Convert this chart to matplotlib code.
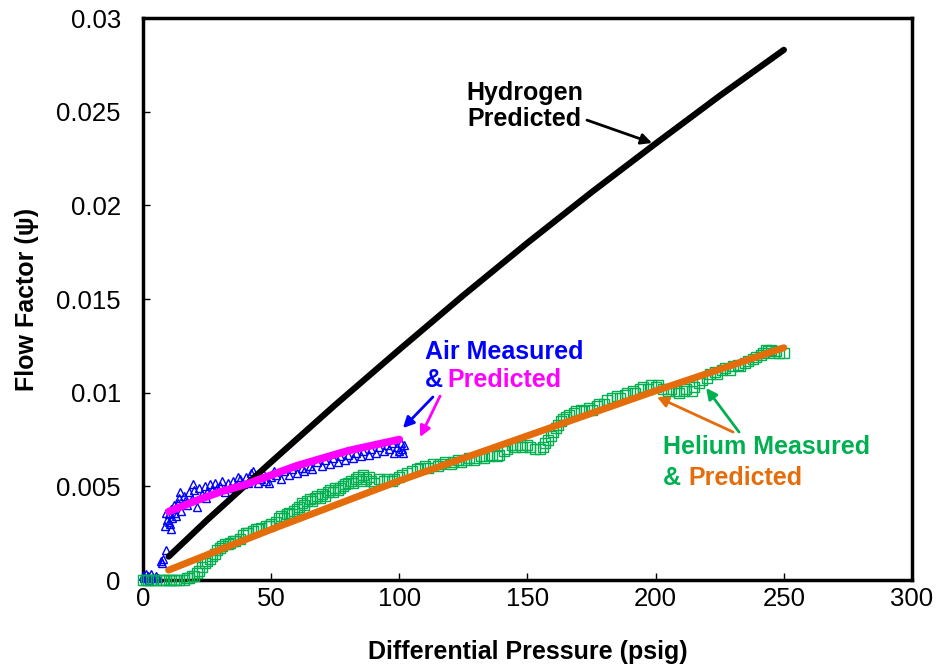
import matplotlib
matplotlib.use("Agg")
import matplotlib.pyplot as plt

plt.rcParams['font.family'] = ['Liberation Sans', 'DejaVu Sans']

# Hydrogen predicted flow factor
h2_psi = [10, 25, 50, 75, 100, 125, 150, 175, 200, 225, 250]
h2_pred = [0.00125, 0.0032, 0.0063, 0.00935, 0.0123, 0.0152, 0.0180, 0.0207, 0.0233, 0.02585, 0.0283]

# Air predicted flow factor
air_psi = [10, 20, 30, 40, 50, 60, 70, 80, 90, 100]
air_pred = [0.00365, 0.0042, 0.0047, 0.0051, 0.0056, 0.0061, 0.0065, 0.0069, 0.0072, 0.0075]

# Air measured flow factor
air_meas_psi = [0, 0.5, 1, 1.5, 2, 2.5, 3, 4, 5, 6, 7, 7.5, 8, 9, 9.5, 10, 10.5, 11, 11.5, 12,
                13, 13.5, 14, 15, 16, 17, 18, 19, 20, 21, 22, 23, 24, 25, 26, 27, 28, 29,
                30, 32, 33, 35, 36, 38, 40, 41, 42, 43, 44, 45, 46, 48, 50, 52, 54, 55,
                57, 58, 60, 62, 63, 65, 66, 68, 70, 71, 73, 74, 76, 77, 79, 80, 82, 83,
                85, 86, 88, 89, 91, 92, 94, 95, 96, 97, 98, 99, 100, 100.5, 101, 101.5, 102,
                8.5, 9, 10, 11, 12.5, 14.5, 16.5, 19.5, 24.5, 31, 34, 37, 39, 47, 49, 51]
air_meas = [0.0002, 0.0001, 0.0003, 0.0001, 0.0002, 0.0000, 0.0003, 0.0001, 0.0002, 0.0001,
            0.0010, 0.0009, 0.0011, 0.0016, 0.0032, 0.0035, 0.0030, 0.0038, 0.0033, 0.0040,
            0.0034, 0.0041, 0.0044, 0.0037, 0.0045, 0.0040, 0.0047, 0.0043, 0.0048, 0.0039,
            0.0049, 0.0046, 0.0050, 0.0047, 0.0051, 0.0048, 0.0052, 0.0049, 0.0050, 0.0047,
            0.0052, 0.0053, 0.0050, 0.0054, 0.0055, 0.0052, 0.0057, 0.0058, 0.0055, 0.0052,
            0.0054, 0.0053, 0.0055, 0.0056, 0.0054, 0.0058, 0.0056, 0.0059, 0.0057, 0.0060,
            0.0058, 0.0061, 0.0059, 0.0063, 0.0061, 0.0064, 0.0062, 0.0065, 0.0063, 0.0066,
            0.0064, 0.0067, 0.0065, 0.0068, 0.0066, 0.0069, 0.0067, 0.0070, 0.0068, 0.0071,
            0.0069, 0.0072, 0.0070, 0.0073, 0.0068, 0.0071, 0.0069, 0.0073, 0.0070, 0.0068,
            0.0072,
            0.0029, 0.0036, 0.0031, 0.0027, 0.0036, 0.0047, 0.0042, 0.0051, 0.0044, 0.0053,
            0.0049, 0.0055, 0.0051, 0.0057, 0.0052, 0.0058]

# Helium predicted flow factor
he_psi = [10, 50, 100, 150, 200, 250]
he_pred = [0.00053, 0.0027, 0.0053, 0.0077, 0.0101, 0.0124]

# Helium measured flow factor
he_meas_psi = [0, 1, 2, 3, 4, 5, 7, 8, 9, 10, 11, 12, 13, 14, 16, 17, 18, 19, 20, 21,
               22, 23, 24, 25, 26, 27, 28, 29, 30, 31, 32, 33, 34, 35, 36, 38, 39, 40, 41, 43,
               44, 45, 46, 48, 49, 50, 52, 53, 54, 55, 56, 57, 58, 59, 60, 61, 62, 63, 64, 65,
               66, 67, 68, 69, 70, 71, 72, 73, 74, 75, 76, 77, 78, 79, 80, 81, 82, 83, 84, 85,
               86, 87, 88, 89, 90, 92, 94, 95, 97, 98, 100, 101, 103, 105, 107, 108, 110, 111, 113, 115,
               116, 118, 120, 121, 123, 124, 126, 127, 129, 130, 132, 133, 135, 136, 138, 139, 141, 142, 144, 145,
               147, 148, 150, 151, 153, 155, 156, 157, 158, 159, 160, 161, 162, 163, 164, 165, 166, 168, 169, 171,
               172, 174, 175, 177, 178, 180, 181, 183, 185, 186, 188, 189, 191, 192, 194, 195, 197, 198, 200, 201,
               203, 205, 206, 208, 209, 211, 212, 214, 215, 217, 218, 220, 221, 223, 224, 226, 227, 229, 230, 232,
               233, 235, 236, 238, 239, 241, 242, 243, 244, 245, 246, 247, 248, 250]
he_meas = [0, 0, 0, 0, 0, 0, 0, 0, 0, 0, 0, 0, 0, 0, 0, 0.0001, 0.0001, 0.0002, 0.0002, 0.0004,
           0.0005, 0.0007, 0.0009, 0.0010, 0.0011, 0.0013, 0.0014, 0.0016, 0.0017, 0.0018,
           0.0019, 0.0019, 0.0020, 0.0021, 0.0021, 0.0022, 0.0024, 0.0025, 0.0025, 0.0026,
           0.0027, 0.0027, 0.0028, 0.0029, 0.0029, 0.0030, 0.0031, 0.0033, 0.0034, 0.0033,
           0.0035, 0.0036, 0.0035, 0.0037, 0.0038, 0.0039, 0.0041, 0.0040, 0.0042, 0.0043,
           0.0042, 0.0044, 0.0045, 0.0044, 0.0046, 0.0045, 0.0047, 0.0048, 0.0047, 0.0049,
           0.0048, 0.0049, 0.0050, 0.0051, 0.0052, 0.0053, 0.0052, 0.0054, 0.0055, 0.0053,
           0.0056, 0.0054, 0.0055, 0.0053, 0.0052, 0.0054, 0.0053, 0.0054, 0.0053, 0.0054,
           0.0055, 0.0056, 0.0057, 0.0058, 0.0059, 0.0060, 0.0061, 0.0060, 0.0062, 0.0061,
           0.0062, 0.0063, 0.0062, 0.0063, 0.0064, 0.0063, 0.0064, 0.0065, 0.0064, 0.0065,
           0.0066, 0.0065, 0.0066, 0.0067, 0.0066, 0.0067, 0.0069, 0.0070, 0.0072, 0.0071,
           0.0072, 0.0071, 0.0072, 0.0071, 0.0070, 0.0070, 0.0071, 0.0073, 0.0075, 0.0077,
           0.0079, 0.0081, 0.0083, 0.0085, 0.0086, 0.0087, 0.0088, 0.0089, 0.0090, 0.0091,
           0.0090, 0.0092, 0.0091, 0.0093, 0.0094, 0.0094, 0.0096, 0.0097, 0.0098, 0.0097,
           0.0099, 0.0100, 0.0101, 0.0100, 0.0102, 0.0103, 0.0102, 0.0104, 0.0103, 0.0104,
           0.0102, 0.0101, 0.0102, 0.0101, 0.0100, 0.0101, 0.0102, 0.0101, 0.0103, 0.0105,
           0.0107, 0.0108, 0.0110, 0.0111, 0.0110, 0.0112, 0.0113, 0.0112, 0.0114, 0.0115,
           0.0114, 0.0116, 0.0117, 0.0118, 0.0119, 0.0120, 0.0121, 0.0123, 0.0122, 0.0123,
           0.0121, 0.0122, 0.0121, 0.0121]

x_ticks = [0, 50, 100, 150, 200, 250, 300]
y_ticks = [0, 0.005, 0.01, 0.015, 0.02, 0.025, 0.03]
y_tick_labels = ['0', '0.005', '0.01', '0.015', '0.02', '0.025', '0.03']

BLUE = '#0000ff'
MAGENTA = '#ff00ff'
GREEN = '#00b050'
ORANGE = '#e46c0a'

fig = plt.figure(figsize=(9.45, 6.67), dpi=100)
ax = fig.add_axes([0.1513, 0.1304, 0.8138, 0.8426])

# measured points first, predicted curves drawn over them
ax.plot(air_meas_psi, air_meas, linestyle='none', marker='^', markersize=6,
        markerfacecolor='none', markeredgecolor=BLUE, markeredgewidth=1, clip_on=False, zorder=3)
ax.plot(he_meas_psi, he_meas, linestyle='none', marker='s', markersize=6.5,
        markerfacecolor='none', markeredgecolor=GREEN, markeredgewidth=1, clip_on=False, zorder=3)

ax.plot(h2_psi, h2_pred, color='black', linewidth=4.5, solid_capstyle='round',
        solid_joinstyle='round', zorder=4)
ax.plot(air_psi, air_pred, color=MAGENTA, linewidth=5.5, solid_capstyle='round',
        solid_joinstyle='round', zorder=4)
ax.plot(he_psi, he_pred, color=ORANGE, linewidth=5, solid_capstyle='round',
        solid_joinstyle='round', zorder=4)

ax.set_xlim(0, 300)
ax.set_ylim(0, 0.03)
ax.set_xticks(x_ticks)
ax.set_yticks(y_ticks)
ax.set_yticklabels(y_tick_labels)
ax.tick_params(axis='both', direction='in', length=5, width=1, labelsize=18.5)
ax.tick_params(axis='x', pad=5)
ax.tick_params(axis='y', pad=16)
for s in ax.spines.values():
    s.set_linewidth(2.5)

ax.set_xlabel('Differential Pressure (psig)', fontsize=18, fontweight='bold', labelpad=21)
ax.set_ylabel('Flow Factor (\u03c8)', fontsize=18, fontweight='bold', labelpad=12)

# callouts
arrow = dict(arrowstyle='-|>', linewidth=2, mutation_scale=16, shrinkA=0, shrinkB=0)
tfont = dict(fontsize=18, fontweight='bold')

ax.text(149, 0.0253, 'Hydrogen\nPredicted', ha='center', va='center', color='black',
        linespacing=1.1, **tfont)
ax.annotate('', xy=(198.6, 0.02333), xytext=(173.2, 0.02455),
            arrowprops=dict(arrow, color='black'))

ax.text(110, 0.01217, 'Air Measured', ha='left', va='center', color=BLUE, **tfont)
ax.text(110, 0.01068, '&', ha='left', va='center', color=BLUE, **tfont)
ax.text(118.6, 0.01068, 'Predicted', ha='left', va='center', color=MAGENTA, **tfont)
ax.annotate('', xy=(101.4, 0.00811), xytext=(113.1, 0.00977),
            arrowprops=dict(arrow, color=BLUE))
ax.annotate('', xy=(108.1, 0.00763), xytext=(115.9, 0.00982),
            arrowprops=dict(arrow, color=MAGENTA))

ax.text(202.9, 0.0071, 'Helium Measured', ha='left', va='center', color=GREEN, **tfont)
ax.text(202.9, 0.00544, '&', ha='left', va='center', color=GREEN, **tfont)
ax.text(212.6, 0.00544, 'Predicted', ha='left', va='center', color=ORANGE, **tfont)
ax.annotate('', xy=(200.5, 0.00977), xytext=(230.2, 0.0079),
            arrowprops=dict(arrow, color=ORANGE))
ax.annotate('', xy=(219.7, 0.01025), xytext=(232.5, 0.0079),
            arrowprops=dict(arrow, color=GREEN))

fig.savefig('out.png', dpi=100)
